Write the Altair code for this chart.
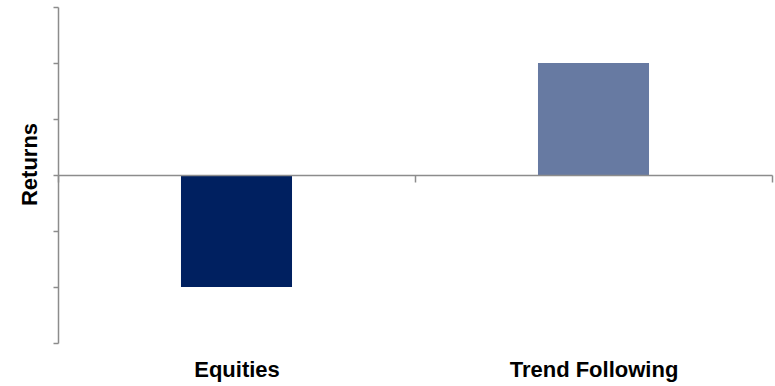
import altair as alt
import pandas as pd

categories = ["Equities", "Trend Following"]
returns = [-2, 2]
bar_colors = ["#002060", "#677AA2"]
y_ticks = [-3, -2, -1, 0, 1, 2, 3]

df = pd.DataFrame({"category": categories, "value": returns, "color": bar_colors})

W, H = 714, 336
axis_color = "#8C8C8C"
font = "Liberation Sans"

bars = alt.Chart(df).mark_bar(width=alt.RelativeBandSize(0.311)).encode(
    x=alt.X(
        "category:N",
        sort=categories,
        scale=alt.Scale(paddingInner=0, paddingOuter=0),
        axis=alt.Axis(
            title=None,
            labelAngle=0,
            tickBand="extent",
            offset=-H / 2,
            zindex=1,
            domainColor=axis_color,
            domainWidth=1.5,
            tickColor=axis_color,
            tickWidth=1.5,
            tickSize=7,
            labelPadding=177,
            labelFont=font,
            labelFontSize=22,
            labelFontWeight="bold",
            labelColor="#000000",
        ),
    ),
    y=alt.Y(
        "value:Q",
        scale=alt.Scale(domain=[-3, 3], nice=False, zero=False),
        axis=alt.Axis(
            title="Returns",
            values=y_ticks,
            labels=False,
            grid=False,
            domainColor=axis_color,
            domainWidth=1.5,
            tickColor=axis_color,
            tickWidth=1.5,
            tickSize=5,
            titleFont=font,
            titleFontSize=22,
            titleFontWeight="bold",
            titleColor="#000000",
            titleX=-28.5,
            titleY=157,
            titleAngle=-90,
            titleAlign="center",
            titleBaseline="middle",
        ),
    ),
    color=alt.Color("color:N", scale=None, legend=None),
)

chart = bars.properties(
    width=W,
    height=H,
    autosize=alt.AutoSizeParams(type="none"),
    padding={"left": 58, "top": 7, "right": 3, "bottom": 43},
    background="#FFFFFF",
).configure_view(stroke=None)

chart.save("out.html", embed_options={"renderer": "svg", "actions": False})
